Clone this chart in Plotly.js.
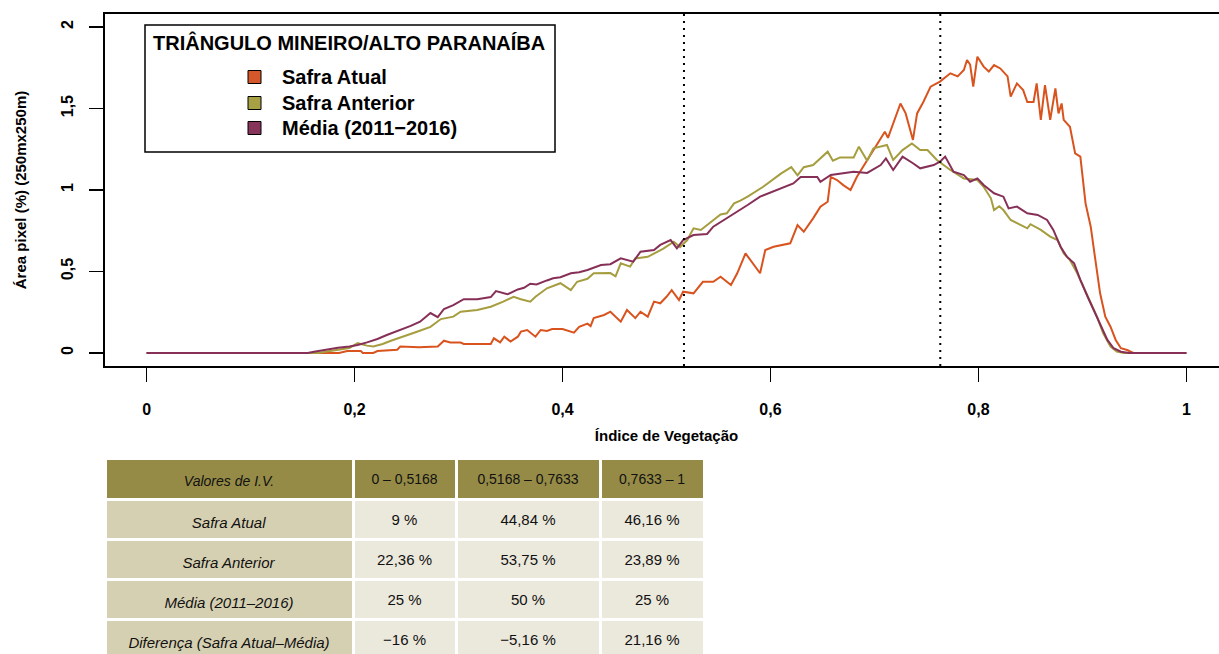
<!DOCTYPE html>
<html><head><meta charset="utf-8">
<script src="https://cdn.plot.ly/plotly-3.0.1.min.js"></script>
<style>html,body{margin:0;padding:0;overflow:hidden;background:#fff}#chart{width:1230px;height:670px}</style>
</head><body><div id="chart"></div>
<script>
// ---- data ----
const xAtual = [0, 0.185, 0.193, 0.206, 0.208, 0.218, 0.222, 0.241, 0.244, 0.262,
  0.28, 0.286, 0.292, 0.302, 0.305, 0.331, 0.334, 0.34, 0.344, 0.35,
  0.357, 0.36, 0.366, 0.374, 0.379, 0.385, 0.39, 0.4, 0.411, 0.416,
  0.424, 0.427, 0.43, 0.44, 0.446, 0.456, 0.462, 0.47, 0.475, 0.482,
  0.488, 0.494, 0.5, 0.505, 0.512, 0.516, 0.526, 0.535, 0.545, 0.552,
  0.562, 0.568, 0.576, 0.583, 0.59, 0.595, 0.603, 0.619, 0.626, 0.632,
  0.641, 0.648, 0.655, 0.658, 0.664, 0.67, 0.677, 0.683, 0.69, 0.699,
  0.707, 0.71, 0.713, 0.72, 0.725, 0.73, 0.735, 0.737, 0.741, 0.747,
  0.754, 0.763, 0.773, 0.78, 0.786, 0.789, 0.792, 0.795, 0.799, 0.805,
  0.81, 0.815, 0.821, 0.828, 0.831, 0.837, 0.843, 0.847, 0.853, 0.856,
  0.86, 0.864, 0.869, 0.874, 0.877, 0.88, 0.882, 0.888, 0.893, 0.898,
  0.903, 0.908, 0.912, 0.917, 0.922, 0.927, 0.932, 0.937, 0.943, 0.949, 1];
const yAtual = [0, 0, 0.012, 0.012, 0, 0, 0.012, 0.02, 0.04, 0.035,
  0.04, 0.075, 0.064, 0.064, 0.055, 0.055, 0.09, 0.065, 0.1, 0.07,
  0.1, 0.131, 0.141, 0.1, 0.141, 0.135, 0.147, 0.147, 0.125, 0.161,
  0.18, 0.165, 0.214, 0.233, 0.253, 0.192, 0.264, 0.214, 0.253, 0.223,
  0.315, 0.305, 0.345, 0.386, 0.325, 0.376, 0.366, 0.437, 0.437, 0.468,
  0.417, 0.489, 0.611, 0.55, 0.489, 0.632, 0.652, 0.673, 0.785, 0.744,
  0.826, 0.898, 0.928, 1.08, 1.061, 1.03, 1.0, 1.08, 1.153, 1.245,
  1.327, 1.358, 1.32, 1.45, 1.531, 1.47, 1.348, 1.307, 1.47, 1.54,
  1.634, 1.665, 1.716, 1.697, 1.736, 1.798, 1.77, 1.634, 1.818, 1.757,
  1.727, 1.767, 1.746, 1.697, 1.573, 1.654, 1.613, 1.54, 1.54, 1.654,
  1.43, 1.644, 1.43, 1.623, 1.47, 1.531, 1.43, 1.388, 1.225, 1.205,
  0.918, 0.775, 0.591, 0.366, 0.223, 0.161, 0.08, 0.029, 0.018, 0, 0];

const xAnterior = [0, 0.165, 0.175, 0.185, 0.195, 0.203, 0.212, 0.218, 0.227, 0.235,
  0.247, 0.26, 0.273, 0.283, 0.295, 0.302, 0.318, 0.331, 0.343, 0.353,
  0.36, 0.369, 0.374, 0.385, 0.398, 0.408, 0.414, 0.424, 0.43, 0.446,
  0.451, 0.456, 0.465, 0.47, 0.482, 0.488, 0.497, 0.507, 0.513, 0.52,
  0.526, 0.533, 0.545, 0.552, 0.558, 0.565, 0.571, 0.578, 0.593, 0.61,
  0.62, 0.626, 0.632, 0.641, 0.655, 0.66, 0.667, 0.68, 0.685, 0.693,
  0.699, 0.712, 0.718, 0.727, 0.736, 0.744, 0.751, 0.76, 0.773, 0.786,
  0.799, 0.805, 0.812, 0.815, 0.82, 0.824, 0.831, 0.84, 0.847, 0.85,
  0.86, 0.869, 0.876, 0.882, 0.888, 0.895, 0.901, 0.908, 0.914, 0.92,
  0.927, 0.933, 0.94, 1];
const yAnterior = [0, 0, 0.01, 0.02, 0.03, 0.06, 0.045, 0.04, 0.055, 0.075,
  0.1, 0.13, 0.16, 0.208, 0.223, 0.253, 0.264, 0.284, 0.315, 0.345,
  0.33, 0.315, 0.345, 0.397, 0.428, 0.386, 0.437, 0.455, 0.489, 0.49,
  0.47, 0.55, 0.53, 0.58, 0.59, 0.611, 0.64, 0.683, 0.65, 0.693,
  0.765, 0.755, 0.816, 0.85, 0.857, 0.918, 0.935, 0.959, 1.02, 1.1,
  1.14, 1.09, 1.14, 1.153, 1.235, 1.18, 1.2, 1.2, 1.266, 1.18,
  1.256, 1.276, 1.184, 1.245, 1.286, 1.245, 1.245, 1.184, 1.123, 1.071,
  1.061, 1.02, 0.949, 0.877, 0.9, 0.877, 0.816, 0.785, 0.765, 0.79,
  0.755, 0.714, 0.693, 0.611, 0.571, 0.489, 0.407, 0.305, 0.223, 0.121,
  0.039, 0.008, 0, 0];

const xMedia = [0, 0.155, 0.161, 0.172, 0.184, 0.195, 0.203, 0.212, 0.222, 0.231,
  0.244, 0.254, 0.263, 0.273, 0.28, 0.286, 0.295, 0.305, 0.318, 0.331,
  0.336, 0.347, 0.357, 0.363, 0.369, 0.375, 0.385, 0.391, 0.398, 0.408,
  0.416, 0.424, 0.437, 0.446, 0.456, 0.468, 0.475, 0.488, 0.494, 0.504,
  0.51, 0.516, 0.526, 0.539, 0.545, 0.558, 0.571, 0.578, 0.59, 0.607,
  0.622, 0.629, 0.645, 0.648, 0.658, 0.68, 0.693, 0.706, 0.711, 0.718,
  0.727, 0.737, 0.744, 0.757, 0.763, 0.768, 0.776, 0.786, 0.792, 0.799,
  0.805, 0.815, 0.824, 0.829, 0.837, 0.847, 0.857, 0.866, 0.872, 0.879,
  0.885, 0.892, 0.898, 0.905, 0.911, 0.917, 0.924, 0.93, 0.937, 0.945, 1];
const yMedia = [0, 0, 0.008, 0.02, 0.032, 0.04, 0.049, 0.065, 0.086, 0.11,
  0.141, 0.166, 0.192, 0.245, 0.22, 0.27, 0.294, 0.33, 0.33, 0.343,
  0.38, 0.36, 0.39, 0.4, 0.425, 0.42, 0.445, 0.458, 0.465, 0.489,
  0.495, 0.509, 0.54, 0.545, 0.581, 0.56, 0.621, 0.632, 0.663, 0.693,
  0.642, 0.693, 0.724, 0.73, 0.775, 0.826, 0.877, 0.908, 0.959, 1.0,
  1.04, 1.08, 1.08, 1.05, 1.092, 1.112, 1.105, 1.153, 1.194, 1.123,
  1.205, 1.164, 1.133, 1.153, 1.174, 1.205, 1.112, 1.092, 1.051, 1.071,
  1.031, 0.98, 0.959, 0.887, 0.898, 0.857, 0.847, 0.816, 0.755, 0.652,
  0.591, 0.55, 0.448, 0.345, 0.264, 0.182, 0.08, 0.029, 0.008, 0, 0];

const seriesNames = ['Safra Atual', 'Safra Anterior', 'Média (2011−2016)'];
const lineColors = ['#d9531e', '#a59d3e', '#862f57'];
const swatchColors = ['#d4582a', '#a8a044', '#87345a'];
const regionTitle = 'TRIÂNGULO MINEIRO/ALTO PARANAÍBA';
const limites = [0.5168, 0.7633];

const xTickVals = [0, 0.2, 0.4, 0.6, 0.8, 1];
const xTickText = ['0', '0,2', '0,4', '0,6', '0,8', '1'];
const yTickVals = [0, 0.5, 1, 1.5, 2];
const yTickText = ['0', '0,5', '1', '1,5', '2'];

const tableHeader = ['Valores de I.V.', '0 – 0,5168', '0,5168 – 0,7633', '0,7633 – 1'];
const tableRows = ['Safra Atual', 'Safra Anterior', 'Média (2011–2016)', 'Diferença (Safra Atual–Média)'];
const colFaixa1 = ['9 %', '22,36 %', '25 %', '−16 %'];
const colFaixa2 = ['44,84 %', '53,75 %', '50 %', '−5,16 %'];
const colFaixa3 = ['46,16 %', '23,89 %', '25 %', '21,16 %'];

// ---- geometry ----
const W = 1230, H = 670, L = 105, R = 2, T = 14, B = 0;
const PW = W - L - R, PH = H - T - B;
const px = p => (p - L) / PW;
const py = p => (H - B - p) / PH;
const FONT = 'Liberation Sans, Arial, sans-serif';

const xs = [xAtual, xAnterior, xMedia];
const ys = [yAtual, yAnterior, yMedia];
const traces = xs.map((x, i) => ({
  type: 'scatter', mode: 'lines', x: x, y: ys[i], name: seriesNames[i],
  line: {color: lineColors[i], width: 2}, xaxis: 'x', yaxis: 'y', hoverinfo: 'skip'
}));

const colWidths = [248, 103, 144, 104];
const headerCells = tableHeader.map((t, i) => [i === 0 ? '<i>' + t + '</i>' : t]);
const bodyCells = [tableRows.map(t => '<i>' + t + '</i>'), colFaixa1, colFaixa2, colFaixa3];
const TXT_SHIFT = 7;

// cell backgrounds
traces.push({
  type: 'table',
  domain: {x: [0, px(704)], y: [0, py(458)]},
  columnwidth: colWidths,
  header: {
    values: headerCells.map(() => ['']),
    fill: {color: '#958b47'}, line: {color: '#ffffff', width: 3}, height: 41,
    font: {family: FONT, size: 14}
  },
  cells: {
    values: bodyCells.map(c => c.map(() => '')),
    fill: {color: ['#d6d0b2', '#ebe8dc', '#ebe8dc', '#ebe8dc']},
    line: {color: '#ffffff', width: 3}, height: 40,
    font: {family: FONT, size: 15}
  }
});
// cell texts (same grid, nudged down to sit mid-cell)
traces.push({
  type: 'table',
  domain: {x: [0, px(704)], y: [0, py(458 + TXT_SHIFT)]},
  columnwidth: colWidths,
  header: {
    values: headerCells,
    fill: {color: 'rgba(0,0,0,0)'}, line: {color: 'rgba(0,0,0,0)', width: 0}, height: 41,
    align: 'center', font: {family: FONT, size: 14, color: '#111'}
  },
  cells: {
    values: bodyCells,
    fill: {color: 'rgba(0,0,0,0)'}, line: {color: 'rgba(0,0,0,0)', width: 0}, height: 40,
    align: 'center', font: {family: FONT, size: 15, color: '#111'}
  }
});

const shapes = limites.map(v => ({
  type: 'line', xref: 'x', yref: 'y domain', x0: v, x1: v, y0: 0, y1: 1,
  line: {color: '#000', width: 2, dash: '2px,5px'}
}));
shapes.push({type: 'rect', xref: 'paper', yref: 'paper',
  x0: px(145), x1: px(555), y0: py(152), y1: py(25),
  line: {color: '#000', width: 1.5}, fillcolor: 'rgba(255,255,255,1)', layer: 'below'});

const annotations = [{
  xref: 'paper', yref: 'paper', x: px(151), y: py(43), xanchor: 'left', yanchor: 'middle',
  text: regionTitle, showarrow: false, font: {family: FONT, size: 20, weight: 700, color: '#000'}
}];
const rowCenters = [77, 103, 128];
seriesNames.forEach((n, i) => {
  const c = rowCenters[i];
  shapes.push({type: 'rect', xref: 'paper', yref: 'paper',
    x0: px(248), x1: px(261), y0: py(c + 6.5), y1: py(c - 6.5),
    fillcolor: swatchColors[i], line: {color: '#000', width: 1}});
  annotations.push({xref: 'paper', yref: 'paper', x: px(280), y: py(c), xanchor: 'left', yanchor: 'middle',
    text: n, showarrow: false, font: {family: FONT, size: 20, weight: 700, color: '#000'}});
});

const axisCommon = {
  showline: true, mirror: true, linecolor: '#000', linewidth: 2,
  ticks: 'outside', ticklen: 14, tickwidth: 1.5, tickcolor: '#000',
  showgrid: false, zeroline: false, fixedrange: true,
  tickfont: {family: FONT, size: 16, weight: 700, color: '#000'}
};

const layout = {
  width: W, height: H,
  margin: {l: L, r: R, t: T, b: B},
  paper_bgcolor: '#fff', plot_bgcolor: '#fff',
  showlegend: false,
  font: {family: FONT, color: '#000'},
  xaxis: Object.assign({}, axisCommon, {
    range: [-0.04, 1.04], tickvals: xTickVals, ticktext: xTickText,
    ticklabelstandoff: 14, anchor: 'y',
    title: {text: 'Índice de Vegetação', standoff: 13, font: {family: FONT, size: 15, weight: 700}}
  }),
  yaxis: Object.assign({}, axisCommon, {
    domain: [py(366), 1], range: [-0.08, 2.08], tickvals: yTickVals, ticktext: yTickText,
    tickangle: -90, ticklabelstandoff: 10, anchor: 'x',
    title: {text: 'Área pixel (%) (250mx250m)', standoff: 28, font: {family: FONT, size: 15, weight: 700}}
  }),
  shapes: shapes,
  annotations: annotations
};

Plotly.newPlot('chart', traces, layout, {displayModeBar: false, staticPlot: true});
</script></body></html>
